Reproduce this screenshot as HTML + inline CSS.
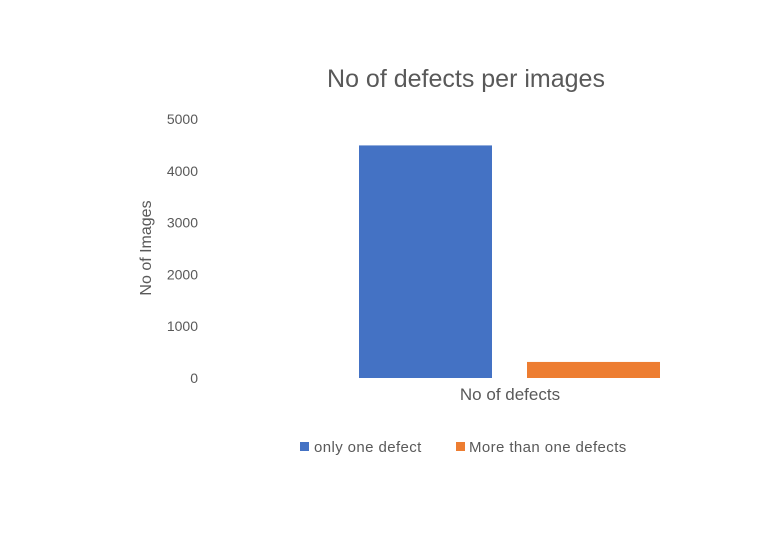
<!DOCTYPE html>
<html><head><meta charset="utf-8"><style>
body{margin:0;background:#fff;}
svg{display:block;font-family:"Liberation Sans",sans-serif;}
</style></head><body>
<svg id="chart" width="766" height="546" viewBox="0 0 766 546">
<text x="466" y="87" text-anchor="middle" font-size="25" fill="#595959">No of defects per images</text>
<text transform="translate(151,248) rotate(-90)" text-anchor="middle" font-size="16" fill="#595959">No of Images</text>
<g id="yticks"></g>
<g id="bars"></g>
<text x="510" y="400" text-anchor="middle" font-size="17" fill="#595959">No of defects</text>
<g>
<rect x="300" y="442" width="9" height="9" fill="#4472C4"/>
<text x="314" y="452" font-size="15" letter-spacing="0.4" fill="#595959">only one defect</text>
<rect x="456" y="442" width="9" height="9" fill="#ED7D31"/>
<text x="469" y="452" font-size="15" letter-spacing="0.4" fill="#595959">More than one defects</text>
</g>
</svg>
<script>
const tickValues=[0,1000,2000,3000,4000,5000];
const seriesNames=["only one defect","More than one defects"];
const seriesValues=[4490,310];
const colors=["#4472C4","#ED7D31"];
const y0=378,y1=119,vmax=5000;
const y=v=>y0-(v/vmax)*(y0-y1);
const ns="http://www.w3.org/2000/svg";
const yt=document.getElementById('yticks');
tickValues.forEach(v=>{
 const t=document.createElementNS(ns,'text');
 
 
 t.setAttribute('x',198);t.setAttribute('y',y(v)+5);
 t.setAttribute('text-anchor','end');t.setAttribute('font-size','14');t.setAttribute('fill','#595959');
 t.textContent=v;yt.appendChild(t);
});
const bg=document.getElementById('bars');
const barW=133,startX=359,step=168;
seriesValues.forEach((v,i)=>{
 const r=document.createElementNS(ns,'rect');
 
 
 r.setAttribute('x',startX+i*step);r.setAttribute('width',barW);
 r.setAttribute('y',y(v));r.setAttribute('height',y0-y(v));
 r.setAttribute('fill',colors[i]);bg.appendChild(r);
});
</script>
</body></html>
